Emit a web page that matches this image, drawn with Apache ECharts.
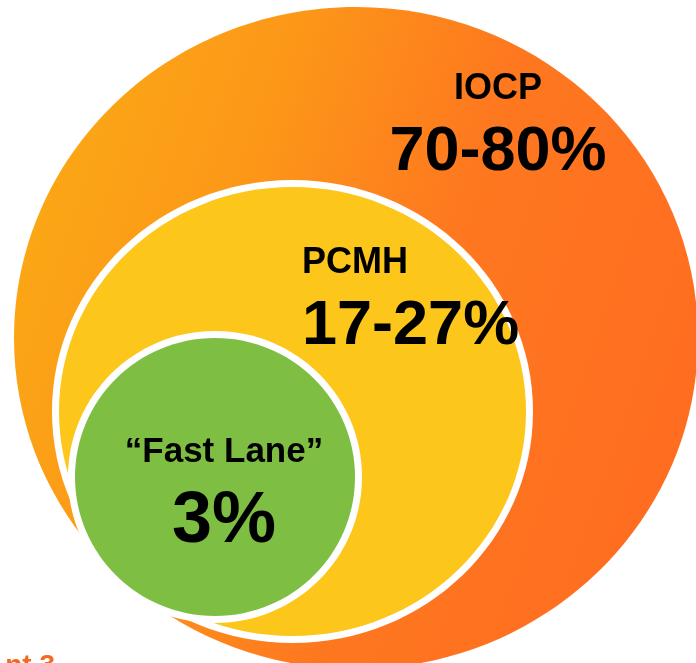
<!DOCTYPE html>
<html>
<head>
<meta charset="utf-8">
<script src="https://cdn.jsdelivr.net/npm/echarts@6/dist/echarts.min.js"></script>
<style>
    html, body { margin: 0; padding: 0; background: #fff; }
    #main { width: 696px; height: 663px; }
</style>
</head>
<body>
<div id="main"></div>
<script>
// program tiers, outermost first
var tiers = ['IOCP', 'PCMH', '\u201CFast Lane\u201D'];
var shares = ['70-80%', '17-27%', '3%'];
var footnote = 'nt 3';

// ring layout on a 696 x 663 plane (centre, radius x, radius y)
var ringX = [356, 292.5, 215];
var ringY = [338, 411.5, 477];
var ringRx = [342, 240.5, 147];
var ringRy = [331, 231.5, 146];

// where the two text lines sit for each tier
var nameX = [498, 302, 224];
var nameY = [89.5, 263, 452.5];
var shareY = [152.5, 326.5, 522.5];
var textAlign = ['center', 'left', 'center'];

var chartDom = document.getElementById('main');
var myChart = echarts.init(chartDom);

var FONT = '"Liberation Sans", Arial, Helvetica, sans-serif';
var GAP = 7; // white rim around the inner circles

var fills = [
    new echarts.graphic.LinearGradient(0, 0.25, 1, 0.6, [
        { offset: 0, color: '#FBA915' },
        { offset: 0.3, color: '#FC9818' },
        { offset: 0.6, color: '#FE781F' },
        { offset: 1, color: '#FF6D20' }
    ]),
    '#FCC61A',
    '#7DBE43'
];

function renderItem(params, api) {
    var i = params.dataIndex;
    var c = api.coord([api.value(0), api.value(1)]);
    var s = api.size([api.value(2) * 2, api.value(3) * 2]);
    var rx = s[0] / 2, ry = s[1] / 2;
    var inset = i > 0 ? GAP : 0;
    var children = [];

    if (i > 0) {
        children.push({
            type: 'ellipse',
            shape: { cx: c[0], cy: c[1], rx: rx, ry: ry },
            style: { fill: '#fff' }
        });
    }
    children.push({
        type: 'ellipse',
        shape: { cx: c[0], cy: c[1], rx: rx - inset, ry: ry - inset },
        style: { fill: fills[i] }
    });

    var p1 = api.coord([nameX[i], nameY[i]]);
    var p2 = api.coord([nameX[i], shareY[i]]);
    children.push({
        type: 'text',
        z2: 10,
        style: {
            text: tiers[i], x: p1[0], y: p1[1],
            align: textAlign[i], verticalAlign: 'middle',
            fill: '#000', font: 'bold ' + (i === 2 ? 35 : 36) + 'px ' + FONT
        }
    });
    children.push({
        type: 'text',
        z2: 10,
        style: {
            text: shares[i], x: p2[0], y: p2[1],
            align: textAlign[i], verticalAlign: 'middle',
            fill: '#000', font: 'bold ' + (i === 2 ? 72 : 63) + 'px ' + FONT
        }
    });
    return { type: 'group', children: children };
}

var seriesData = tiers.map(function (name, i) {
    return { name: name, value: [ringX[i], ringY[i], ringRx[i], ringRy[i]] };
});

var option = {
    backgroundColor: '#fff',
    animation: false,
    grid: { left: 0, right: 0, top: 0, bottom: 0 },
    xAxis: { type: 'value', min: 0, max: 696, show: false },
    yAxis: { type: 'value', min: 0, max: 663, inverse: true, show: false },
    series: [{
        type: 'custom',
        renderItem: renderItem,
        clip: false,
        data: seriesData
    }],
    graphic: [{
        type: 'text',
        right: 641,
        top: 652,
        style: {
            text: footnote,
            fill: '#F26A21',
            font: 'bold 28px ' + FONT
        }
    }]
};

myChart.setOption(option);
</script>
</body>
</html>
